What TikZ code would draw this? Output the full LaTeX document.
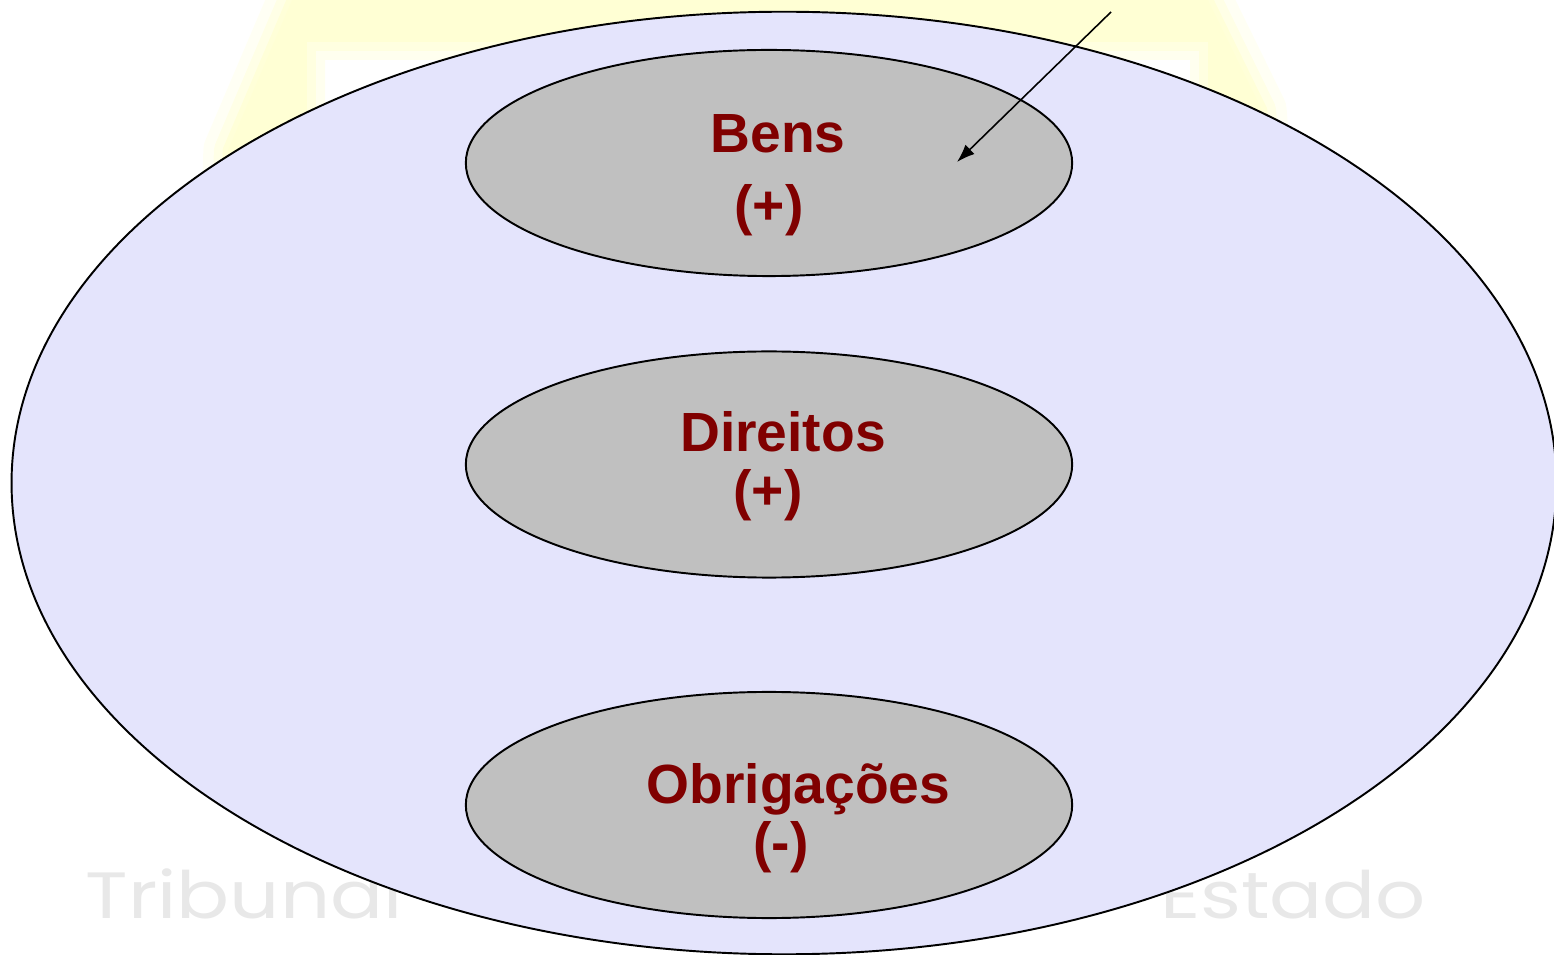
\documentclass[tikz,border=0pt]{standalone}
\usepackage{fontspec}
\setmainfont{Liberation Sans}
\newfontfamily\markfont{Poppins}
\usetikzlibrary{shapes.geometric,arrows.meta}

\definecolor{lavender}{RGB}{228,228,252}
\definecolor{silverfill}{RGB}{192,192,192}
\definecolor{maroon}{RGB}{128,0,0}
\definecolor{paleyellow}{RGB}{255,255,212}
\definecolor{markgray}{RGB}{232,232,232}

\tikzset{
  outerset/.style={ellipse, draw=black, line width=0.55pt, fill=lavender,
    inner sep=0pt, minimum width=15.44cm, minimum height=9.42cm},
  subset/.style={ellipse, draw=black, line width=0.55pt, fill=silverfill,
    inner sep=0pt, minimum width=6.06cm, minimum height=2.26cm},
  label/.style={text=maroon, font=\bfseries\fontsize{15.7pt}{18pt}\selectfont,
    inner sep=0pt, anchor=base},
  marktext/.style={text=markgray, font=\markfont\fontsize{18.6pt}{20pt}\selectfont,
    inner sep=0pt},
  pointer/.style={draw=black, line width=0.45pt,
    -{Latex[length=0.18cm, width=0.13cm]}}
}

\begin{document}
\begin{tikzpicture}[x=0.01cm, y=-0.01cm]
\useasboundingbox (0,0) rectangle (1554,955);
\clip (0,0) rectangle (1554,955);

% faded logo frame in the background
\foreach \w/\o in {14/0.25, 8/0.45, 3/0.8}{
  \draw[paleyellow, line width=\w pt, opacity=\o, line join=round]
    (292,0) -- (1208,0) -- (1262,110) -- (1280,330) -- (222,330) -- (228,150) -- cycle;
}
\fill[paleyellow, even odd rule]
  (292,0) -- (1208,0) -- (1262,110) -- (1280,330) -- (222,330) -- (228,150) -- cycle
  (325,60) -- (1190,60) -- (1190,330) -- (325,330) -- cycle;
% soft inner edge of the frame
\foreach \w/\o in {10/0.3, 5/0.5}{
  \draw[white, line width=\w pt, opacity=\o]
    (325,330) -- (325,60) -- (1190,60) -- (1190,330);
}

% watermark lettering
\node[marktext, anchor=base west, xscale=1.2] (wmleft) at (85,918) {Tribunal};
\node[marktext, anchor=base east, xscale=1.2] (wmright) at (1427,918) {Estado};

% patrimony as a whole
\node[outerset] (whole) at (784,483) {};

% its three parts
\node[subset] (bens) at (769,163) {};
\node[subset] (direitos) at (769,464.5) {};
\node[subset] (obrig) at (769,805) {};

\node[label] (bensname) at (778,153) {Bens};
\node[label] (benssign) at (769,225) {(+)};
\node[label] (dirname) at (783,452) {Direitos};
\node[label] (dirsign) at (768,510) {(+)};
\node[label] (obname) at (798.5,803) {Obrigações};
\node[label] (obsign) at (781,861) {(-)};

% pointer into the first part
\coordinate (pstart) at (1111,12);
\coordinate (pend) at (957,162);
\draw[pointer] (pstart) -- (pend);
\end{tikzpicture}
\end{document}
